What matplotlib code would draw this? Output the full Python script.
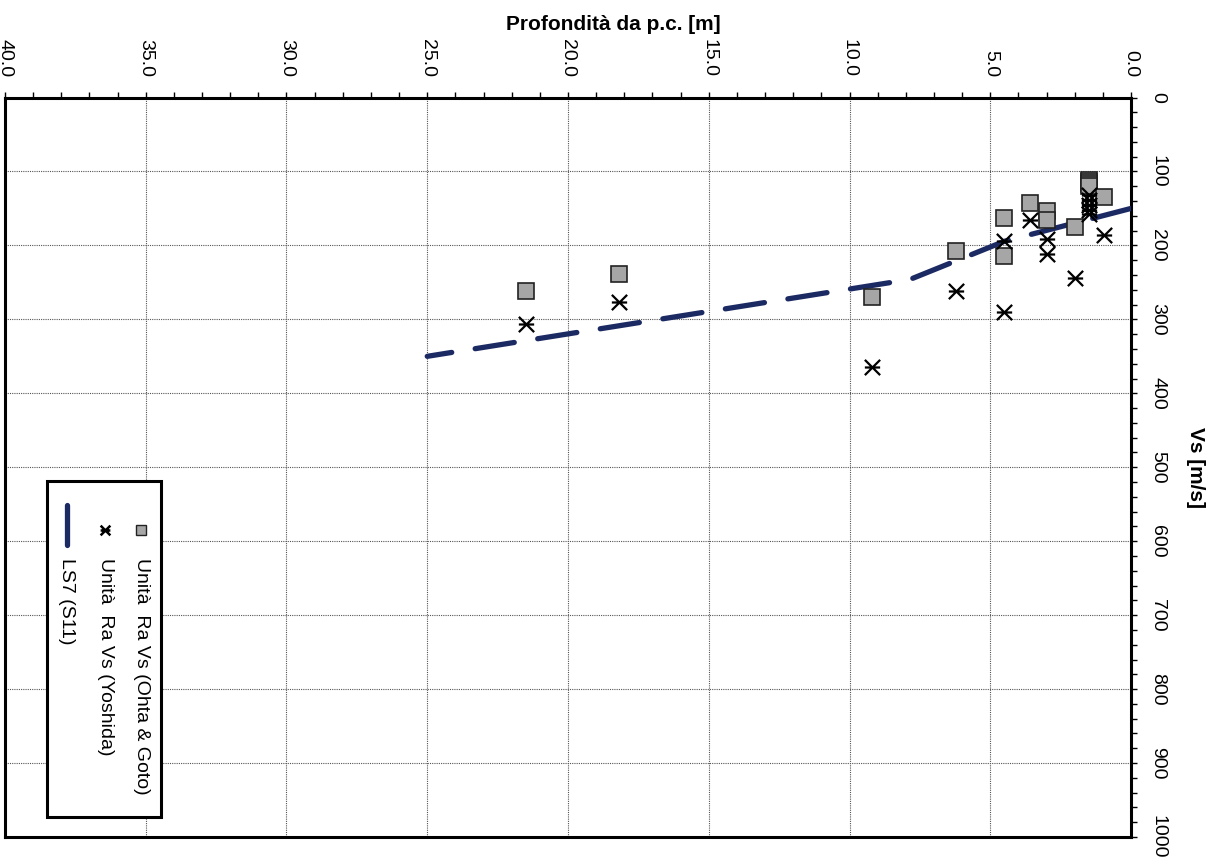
import matplotlib
matplotlib.use('Agg')
import matplotlib.pyplot as plt
from matplotlib.path import Path
from matplotlib.patches import Rectangle
from matplotlib.lines import Line2D
from matplotlib.ticker import MultipleLocator
import numpy as np

plt.rcParams['font.family'] = ['Liberation Sans', 'DejaVu Sans']

# --- dati (profondità [m], Vs [m/s]) ---
ohta_depth = [1.48, 1.48, 1.48, 1.48, 0.95, 3.6, 3.0, 3.0, 4.5, 4.5, 2.0, 6.2, 9.2, 18.2, 21.5]
ohta_vs = [111, 114, 117, 120, 135, 142, 154, 165, 163, 215, 175, 207, 270, 239, 262]

yosh_depth = [1.48, 1.48, 1.48, 1.48, 1.48, 0.95, 3.6, 3.0, 3.0, 4.5, 4.5, 2.0, 6.2, 9.2, 18.2, 21.5]
yosh_vs = [132, 139, 146, 152, 158, 186, 165, 191, 212, 194, 290, 244, 262, 365, 276, 306]

ls7_depth = [0, 4.5, 7.85, 25]
ls7_vs = [150, 194.5, 246, 350]

legend_labels = ['Unità  Ra Vs (Ohta & Goto)', 'Unità  Ra Vs (Yoshida)', 'LS7 (S11)']

W, H = 1218, 864
NAVY = '#1c2a63'
SQ_FACE = '#a6a6a6'

# asterisco tipo Excel (ruotato): X + barra orizzontale
star = Path([(-1, -1), (1, 1), (-1, 1), (1, -1), (-1, 0), (1, 0)],
            [Path.MOVETO, Path.LINETO, Path.MOVETO, Path.LINETO, Path.MOVETO, Path.LINETO])

fig = plt.figure(figsize=(W / 100, H / 100), dpi=100)
ax = fig.add_axes([5 / W, 1 - 837 / H, (1131 - 5) / W, (837 - 97.5) / H])

ax.plot(ls7_depth, ls7_vs, color=NAVY, lw=3.8, linestyle=(0, (7.5, 4.5)),
        dash_capstyle='round', solid_capstyle='round', zorder=3)
ax.plot(ohta_depth, ohta_vs, linestyle='none', marker='s', markersize=11,
        markerfacecolor=SQ_FACE, markeredgecolor='#222222', markeredgewidth=1.2, zorder=4)
ax.plot(yosh_depth, yosh_vs, linestyle='none', marker=star, markersize=11,
        markerfacecolor='none', markeredgecolor='black', markeredgewidth=1.6, zorder=5)

ax.set_xlim(40, 0)
ax.set_ylim(1000, 0)
xt = np.arange(0, 41, 5)
ax.set_xticks(xt)
ax.set_xticklabels([f'{v:.1f}' for v in xt])
ax.set_yticks(np.arange(0, 1001, 100))
ax.xaxis.set_minor_locator(MultipleLocator(1))
ax.yaxis.set_minor_locator(MultipleLocator(20))
ax.xaxis.tick_top()
ax.yaxis.tick_right()
ax.tick_params(axis='x', which='both', direction='out', length=4, width=1,
               top=True, bottom=False, labeltop=True, labelbottom=False)
ax.tick_params(axis='x', which='major', labelsize=14, labelrotation=-90, pad=11)
ax.tick_params(axis='y', which='both', direction='out', length=4, width=1,
               right=True, left=False, labelright=True, labelleft=False)
ax.tick_params(axis='y', which='major', labelsize=14, labelrotation=-90, pad=9)
for lab in ax.get_yticklabels():
    lab.set_va('center')
    lab.set_ha('left')

ax.grid(True, which='major', linestyle=(0, (1, 1)), color='#555555', linewidth=0.8)
for sp in ax.spines.values():
    sp.set_linewidth(2.2)
    sp.set_color('black')

fig.text(613 / W, 1 - 30 / H, 'Profondità da p.c. [m]', ha='center', va='baseline',
         fontsize=15, fontweight='bold')
fig.text(1195 / W, 1 - 467 / H, 'Vs [m/s]', ha='center', va='center', rotation=-90,
         fontsize=15, fontweight='bold')

# legenda disegnata a mano (ruotata)
fig.patches.append(Rectangle((47.3 / W, 1 - 816.7 / H), 113.4 / W, 336 / H,
                             transform=fig.transFigure, facecolor='white',
                             edgecolor='black', linewidth=2.2, zorder=10))
fig.lines.append(Line2D([140.7 / W], [1 - 530 / H], transform=fig.transFigure,
                        marker='s', markersize=7, markerfacecolor=SQ_FACE,
                        markeredgecolor='#222222', markeredgewidth=1.0, zorder=11))
fig.lines.append(Line2D([105 / W], [1 - 530 / H], transform=fig.transFigure,
                        marker=star, markersize=7, markerfacecolor='none',
                        markeredgecolor='black', markeredgewidth=1.8, zorder=11))
fig.lines.append(Line2D([66.7 / W, 66.7 / W], [1 - 505 / H, 1 - 545 / H],
                        transform=fig.transFigure, color=NAVY, lw=3.8,
                        solid_capstyle='round', zorder=11))
for xc, txt in zip([141.7, 105, 66.7], legend_labels):
    fig.text(xc / W, 1 - 558 / H, txt, ha='center', va='top', rotation=-90,
             fontsize=14, zorder=12)

fig.savefig('out.png', dpi=100)
